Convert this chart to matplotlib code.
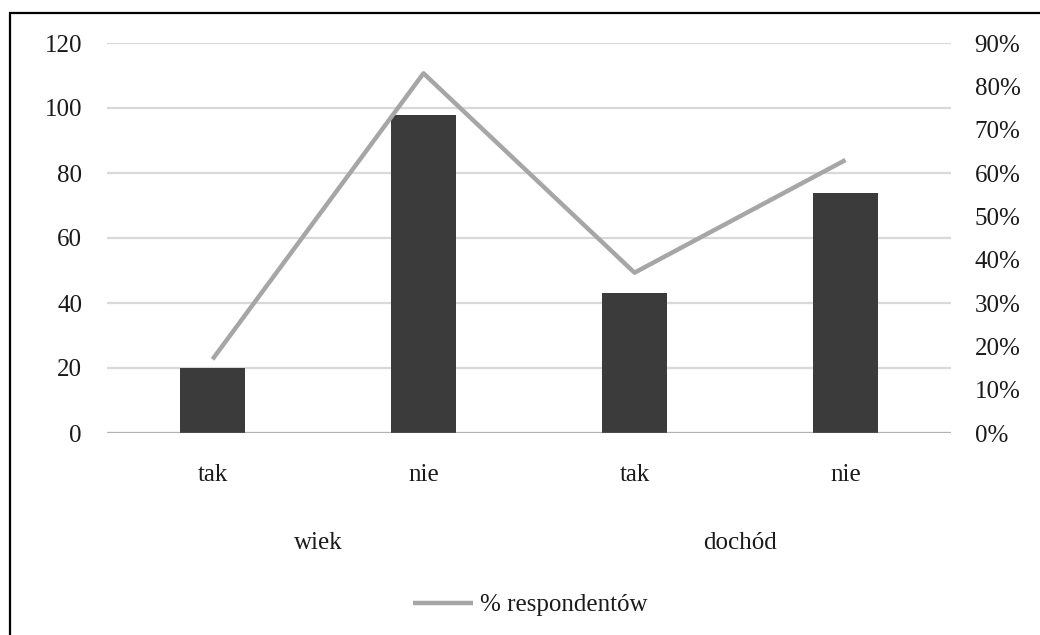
import matplotlib
matplotlib.use("Agg")
import matplotlib.pyplot as plt
from matplotlib.ticker import FuncFormatter, MultipleLocator
from matplotlib.patches import Rectangle
from matplotlib.transforms import blended_transform_factory

# Data
categories = ["tak", "nie", "tak", "nie"]
groups = ["wiek", "dochód"]
counts = [20, 98, 43, 74]
share_pct = [17, 83, 37, 63]
series_name = "% respondentów"

plt.rcParams["font.family"] = ["Liberation Serif", "DejaVu Serif"]
FS = 18

W, H = 1040, 635
fig = plt.figure(figsize=(W / 100, H / 100), dpi=100)

# Outer frame
fig.patches.append(Rectangle((10 / W, -0.05), 1.1, 1 - 13 / H + 0.05,
                             transform=fig.transFigure, fill=False,
                             edgecolor="black", linewidth=1.6, zorder=0))

ax = fig.add_axes([107 / W, 1 - 433 / H, (951 - 107) / W, (433 - 43) / H])
x = list(range(len(categories)))

ax.bar(x, counts, width=0.31, color="#3b3b3b", zorder=2)
ax.axhline(0, color="#6a6a6a", linewidth=1.6, zorder=2.5, alpha=0.35)
ax.set_xlim(-0.5, len(categories) - 0.5)
ax.set_ylim(0, 120)
ax.yaxis.set_major_locator(MultipleLocator(20))
ax.grid(axis="y", color="#d9d9d9", linewidth=1.6, zorder=0)
ax.set_axisbelow(True)
for s in ax.spines.values():
    s.set_visible(False)
ax.tick_params(axis="both", length=0, labelsize=FS, labelcolor="#1a1a1a")
ax.tick_params(axis="y", pad=18)
ax.set_xticks([])

# Category and group labels under the axis
trans = blended_transform_factory(ax.transData, fig.transFigure)
for xi, c in zip(x, categories):
    ax.text(xi, 1 - 475 / H, c, transform=trans, ha="center", va="center",
            fontsize=FS, color="#1a1a1a")
for gi, g in enumerate(groups):
    ax.text(gi * 2 + 0.5, 1 - 543 / H, g, transform=trans, ha="center",
            va="center", fontsize=FS, color="#1a1a1a")

ax2 = ax.twinx()
line, = ax2.plot(x, [v / 100 for v in share_pct], color="#a6a6a6",
                 linewidth=3.2, solid_capstyle="butt", zorder=3,
                 label=series_name)
ax2.set_ylim(0, 0.9)
ax2.yaxis.set_major_locator(MultipleLocator(0.1))
ax2.yaxis.set_major_formatter(FuncFormatter(lambda v, _: f"{v * 100:.0f}%"))
for s in ax2.spines.values():
    s.set_visible(False)
ax2.tick_params(axis="y", length=0, labelsize=FS, pad=17, labelcolor="#1a1a1a")

leg = fig.legend(handles=[line], loc="center",
                 bbox_to_anchor=(530 / W, 1 - 605 / H),
                 frameon=False, fontsize=FS, handlelength=2.4,
                 handletextpad=0.3)
for t in leg.get_texts():
    t.set_color("#1a1a1a")

fig.savefig("out.png", dpi=100)
